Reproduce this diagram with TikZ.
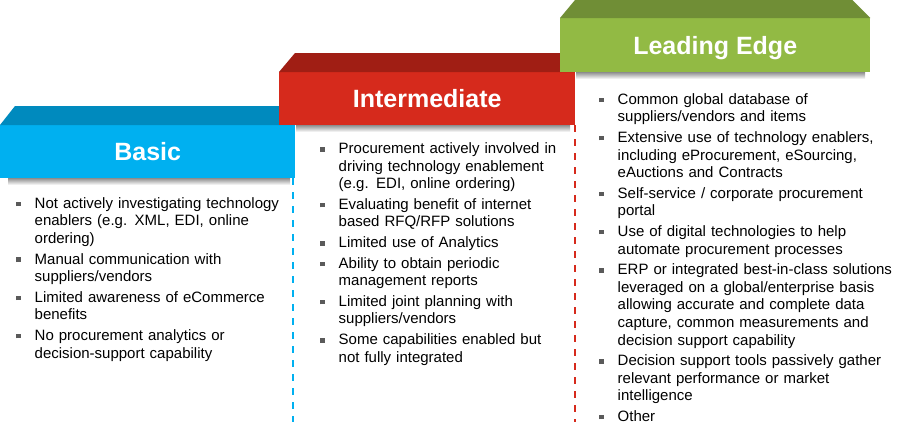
\documentclass[tikz,border=0pt]{standalone}
\usepackage{fontspec}
\setmainfont{Liberation Sans}
\usetikzlibrary{calc}

\definecolor{basicfront}{RGB}{0,176,240}
\definecolor{basictop}{RGB}{0,138,190}
\definecolor{interfront}{RGB}{214,42,28}
\definecolor{intertop}{RGB}{160,30,20}
\definecolor{leadfront}{RGB}{146,186,68}
\definecolor{leadtop}{RGB}{112,142,54}
\definecolor{bulletgray}{RGB}{90,90,90}

\newcommand{\bitem}{\noindent\hangindent=18.5pt\hangafter=1%
  \makebox[18.5pt][l]{\textcolor{bulletgray}{\rule[2pt]{4.6pt}{4.6pt}}}\strut}

\begin{document}
\begin{tikzpicture}[x=1pt, y=-1pt,
    tier/.style={rectangle, anchor=north west, inner sep=0pt, text=white,
      font=\fontsize{25}{30}\selectfont\bfseries, text height=18pt, text depth=0pt},
    bullets/.style={anchor=north west, inner sep=0pt, text width=300pt,
      font=\fontsize{15}{17.6}\selectfont,
      execute at begin node={\setlength{\parskip}{3pt}\raggedright}},
    shadowbar/.style={top color=black!45, bottom color=white},
    tierdash/.style={line width=2pt, dash pattern=on 7pt off 7pt}]
    \useasboundingbox (0,0) rectangle (900,434);

    % basic
    \node[tier, fill=basicfront, minimum width=295pt, minimum height=53pt] (basic) at (0,125) {Basic};
    \fill[basictop] (basic.north west) -- ($(basic.north west)+(15,-19)$)
      -- ($(basic.north east)+(-15,-19)$) -- (basic.north east) -- cycle;
    \shade[shadowbar] (8,178) rectangle (290,185);
    \draw[tierdash, basicfront] ([xshift=-2pt]basic.south east) -- ++(0,244);

    % intermediate
    \node[tier, fill=interfront, minimum width=296pt, minimum height=53pt] (inter) at (279,72) {Intermediate};
    \fill[intertop] (inter.north west) -- ($(inter.north west)+(16,-19)$)
      -- ($(inter.north east)+(-15,-19)$) -- (inter.north east) -- cycle;
    \shade[shadowbar] (296,125) rectangle (570,132);
    \draw[tierdash, interfront] (inter.south east) -- ++(0,297);

    % leading edge
    \node[tier, fill=leadfront, minimum width=310pt, minimum height=54pt] (lead) at (560,18) {Leading Edge};
    \fill[leadtop] (lead.north west) -- ($(lead.north west)+(15,-18)$)
      -- ($(lead.north east)+(-18,-18)$) -- (lead.north east) -- cycle;
    \shade[shadowbar] (576,72) rectangle (865,79);

    \node[bullets] (basiclist) at (16,195.7) {%
      \bitem Not actively investigating technology\newline enablers (e.g. XML, EDI, online\newline ordering)\par
      \bitem Manual communication with\newline suppliers/vendors\par
      \bitem Limited awareness of eCommerce\newline benefits\par
      \bitem No procurement analytics or\newline decision-support capability\par};

    \node[bullets] (interlist) at (320,141) {%
      \bitem Procurement actively involved in\newline driving technology enablement\newline (e.g. EDI, online ordering)\par
      \bitem Evaluating benefit of internet\newline based RFQ/RFP solutions\par
      \bitem Limited use of Analytics\par
      \bitem Ability to obtain periodic\newline management reports\par
      \bitem Limited joint planning with\newline suppliers/vendors\par
      \bitem Some capabilities enabled but\newline not fully integrated\par};

    \node[bullets] (leadlist) at (599,91.7) {%
      \bitem Common global database of\newline suppliers/vendors and items\par
      \bitem Extensive use of technology enablers,\newline including eProcurement, eSourcing,\newline eAuctions and Contracts\par
      \bitem Self-service / corporate procurement\newline portal\par
      \bitem Use of digital technologies to help\newline automate procurement processes\par
      \bitem ERP or integrated best-in-class solutions\newline leveraged on a global/enterprise basis\newline allowing accurate and complete data\newline capture, common measurements and\newline decision support capability\par
      \bitem Decision support tools passively gather\newline relevant performance or market\newline intelligence\par
      \bitem Other\par};
\end{tikzpicture}
\end{document}
